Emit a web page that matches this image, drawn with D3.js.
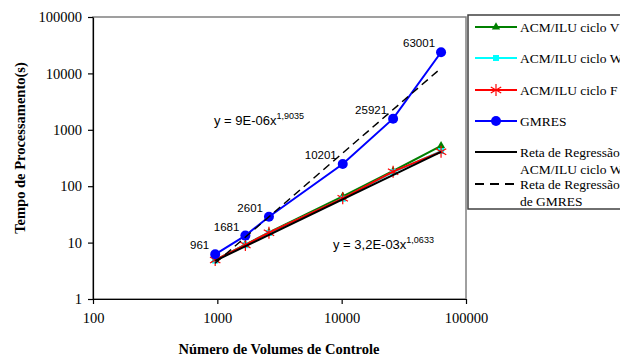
<!DOCTYPE html>
<html>
<head>
<meta charset="utf-8">
<script src="https://cdn.jsdelivr.net/npm/d3@7"></script>
<style>
  body { margin: 0; background: #fff; }
  svg { display: block; }
  .tick text { font-family: "Liberation Serif", serif; font-size: 14.5px; fill: #000; }
</style>
</head>
<body>
<div id="chart"></div>
<script>
// volumes de controle (x) and processing times (y)
const volumes = [961, 1681, 2601, 10201, 25921, 63001];
const cicloV = [4.9, 9.2, 15.2, 66, 186, 520];
const cicloW = [4.8, 9.0, 14.8, 60, 178, 420];
const cicloF = [4.9, 9.1, 15.0, 61, 181, 409];
const gmres = [6.2, 13.3, 28.8, 248, 1574, 23700];

// trendline end points (Excel power trendlines, straight on log-log)
const retaACM = [[961, 4.76], [63001, 406]];
const retaGMRES = [[961, 4.3], [63001, 12400]];

const xTicks = [100, 1000, 10000, 100000];
const yTicks = [1, 10, 100, 1000, 10000, 100000];

const legendItems = [
  { lines: ["ACM/ILU ciclo V"], color: "#008000", marker: "triangle" },
  { lines: ["ACM/ILU ciclo W"], color: "#00FFFF", marker: "square" },
  { lines: ["ACM/ILU ciclo F"], color: "#FF0000", marker: "star" },
  { lines: ["GMRES"], color: "#0000FF", marker: "circle" },
  { lines: ["Reta de Regressão", "ACM/ILU ciclo W"], color: "#000", marker: null },
  { lines: ["Reta de Regressão", "de GMRES"], color: "#000", marker: null, dash: true }
];

const W = 620, H = 358;
const plot = { left: 93, right: 466, top: 17, bottom: 299 };

const svg = d3.select("#chart").append("svg")
  .attr("width", W).attr("height", H);

const x = d3.scaleLog().domain([100, 100000]).range([plot.left, plot.right]);
const y = d3.scaleLog().domain([1, 100000]).range([plot.bottom, plot.top]);

// plot area frame
svg.append("rect")
  .attr("x", plot.left).attr("y", plot.top)
  .attr("width", plot.right - plot.left).attr("height", plot.bottom - plot.top)
  .attr("fill", "none").attr("stroke", "#808080").attr("stroke-width", 1.5);

const xAxis = d3.axisBottom(x).tickValues(xTicks).tickFormat(d3.format("d"))
  .tickSize(5).tickSizeOuter(0).tickPadding(9);
svg.append("g")
  .attr("transform", "translate(0," + plot.bottom + ")")
  .call(xAxis)
  .call(g => g.selectAll("line, path").attr("stroke", "#000").attr("stroke-width", 1.2));

const yAxis = d3.axisLeft(y).tickValues(yTicks).tickFormat(d3.format("d"))
  .tickSize(5).tickSizeOuter(0).tickPadding(6);
svg.append("g")
  .attr("transform", "translate(" + plot.left + ",0)")
  .call(yAxis)
  .call(g => g.selectAll("line, path").attr("stroke", "#000").attr("stroke-width", 1.2));

// axis titles
svg.append("text")
  .attr("x", 279).attr("y", 354)
  .attr("text-anchor", "middle")
  .style("font-family", "Liberation Serif, serif").style("font-size", "14.5px").style("font-weight", "bold")
  .text("Número de Volumes de Controle");

svg.append("text")
  .attr("transform", "translate(25,148) rotate(-90)")
  .attr("text-anchor", "middle")
  .style("font-family", "Liberation Serif, serif").style("font-size", "14.5px").style("font-weight", "bold")
  .text("Tempo de Processamento(s)");

const line = d3.line().x(d => x(d[0])).y(d => y(d[1]));

function drawMarker(g, kind, color, cx, cy) {
  if (kind === "triangle") {
    g.append("path").attr("d", d3.symbol(d3.symbolTriangle, 30)())
      .attr("transform", "translate(" + cx + "," + cy + ")").attr("fill", color);
  } else if (kind === "square") {
    g.append("rect").attr("x", cx - 3).attr("y", cy - 3).attr("width", 6).attr("height", 6).attr("fill", color);
  } else if (kind === "circle") {
    g.append("circle").attr("cx", cx).attr("cy", cy).attr("r", 5).attr("fill", color);
  } else if (kind === "star") {
    const r = 6;
    [0, 60, 120].forEach(a => {
      const rad = a * Math.PI / 180;
      g.append("line")
        .attr("x1", cx - r * Math.sin(rad)).attr("y1", cy - r * Math.cos(rad))
        .attr("x2", cx + r * Math.sin(rad)).attr("y2", cy + r * Math.cos(rad))
        .attr("stroke", color).attr("stroke-width", 1.2);
    });
  }
}

const seriesList = [
  { values: cicloV, color: "#008000", marker: "triangle" },
  { values: cicloW, color: "#00FFFF", marker: "square" },
  { values: cicloF, color: "#FF0000", marker: "star" },
  { values: gmres, color: "#0000FF", marker: "circle" }
];

seriesList.forEach(s => {
  const pts = volumes.map((v, i) => [v, s.values[i]]);
  const g = svg.append("g");
  g.append("path").attr("d", line(pts))
    .attr("fill", "none").attr("stroke", s.color).attr("stroke-width", 2);
  pts.forEach(p => drawMarker(g, s.marker, s.color, x(p[0]), y(p[1])));
});

// trendlines
svg.append("path").attr("d", line(retaACM))
  .attr("fill", "none").attr("stroke", "#000").attr("stroke-width", 2);
svg.append("path").attr("d", line(retaGMRES))
  .attr("fill", "none").attr("stroke", "#000").attr("stroke-width", 1.5)
  .attr("stroke-dasharray", "8,5");

// data labels on GMRES points
svg.append("g").selectAll("text")
  .data(volumes.map((v, i) => [v, gmres[i]]))
  .join("text")
  .attr("x", d => x(d[0]) - 6)
  .attr("y", d => y(d[1]) - 9)
  .attr("dy", "0.35em")
  .attr("text-anchor", "end")
  .style("font-family", "Liberation Sans, Arial, sans-serif").style("font-size", "11.5px")
  .text(d => d[0]);

// trendline equations
function equation(px, py, base, expo) {
  const t = svg.append("text").attr("x", px).attr("y", py)
    .style("font-family", "Liberation Sans, Arial, sans-serif").style("font-size", "13px");
  t.append("tspan").text(base);
  t.append("tspan").attr("dy", -6).style("font-size", "9px").text(expo);
}
equation(214, 125, "y = 9E-06x", "1,9035");
equation(333, 249, "y = 3,2E-03x", "1,0633");

// legend
const legend = svg.append("g");
legend.append("rect")
  .attr("x", 468).attr("y", 15).attr("width", 170).attr("height", 194)
  .attr("fill", "#fff").attr("stroke", "#404040").attr("stroke-width", 1.5);

const rowY = [27, 58, 90, 121, 152, 184];
legendItems.forEach((item, i) => {
  const cy = rowY[i];
  const g = legend.append("g");
  g.append("line").attr("x1", 475).attr("x2", 517).attr("y1", cy).attr("y2", cy)
    .attr("stroke", item.color).attr("stroke-width", 2)
    .attr("stroke-dasharray", item.dash ? "9,6" : null);
  if (item.marker) drawMarker(g, item.marker, item.color, 496, cy);
  item.lines.forEach((t, j) => {
    g.append("text").attr("x", 520).attr("y", cy + j * 17).attr("dy", "0.35em")
      .style("font-family", "Liberation Serif, serif").style("font-size", "13.5px")
      .text(t);
  });
});
</script>
</body>
</html>
